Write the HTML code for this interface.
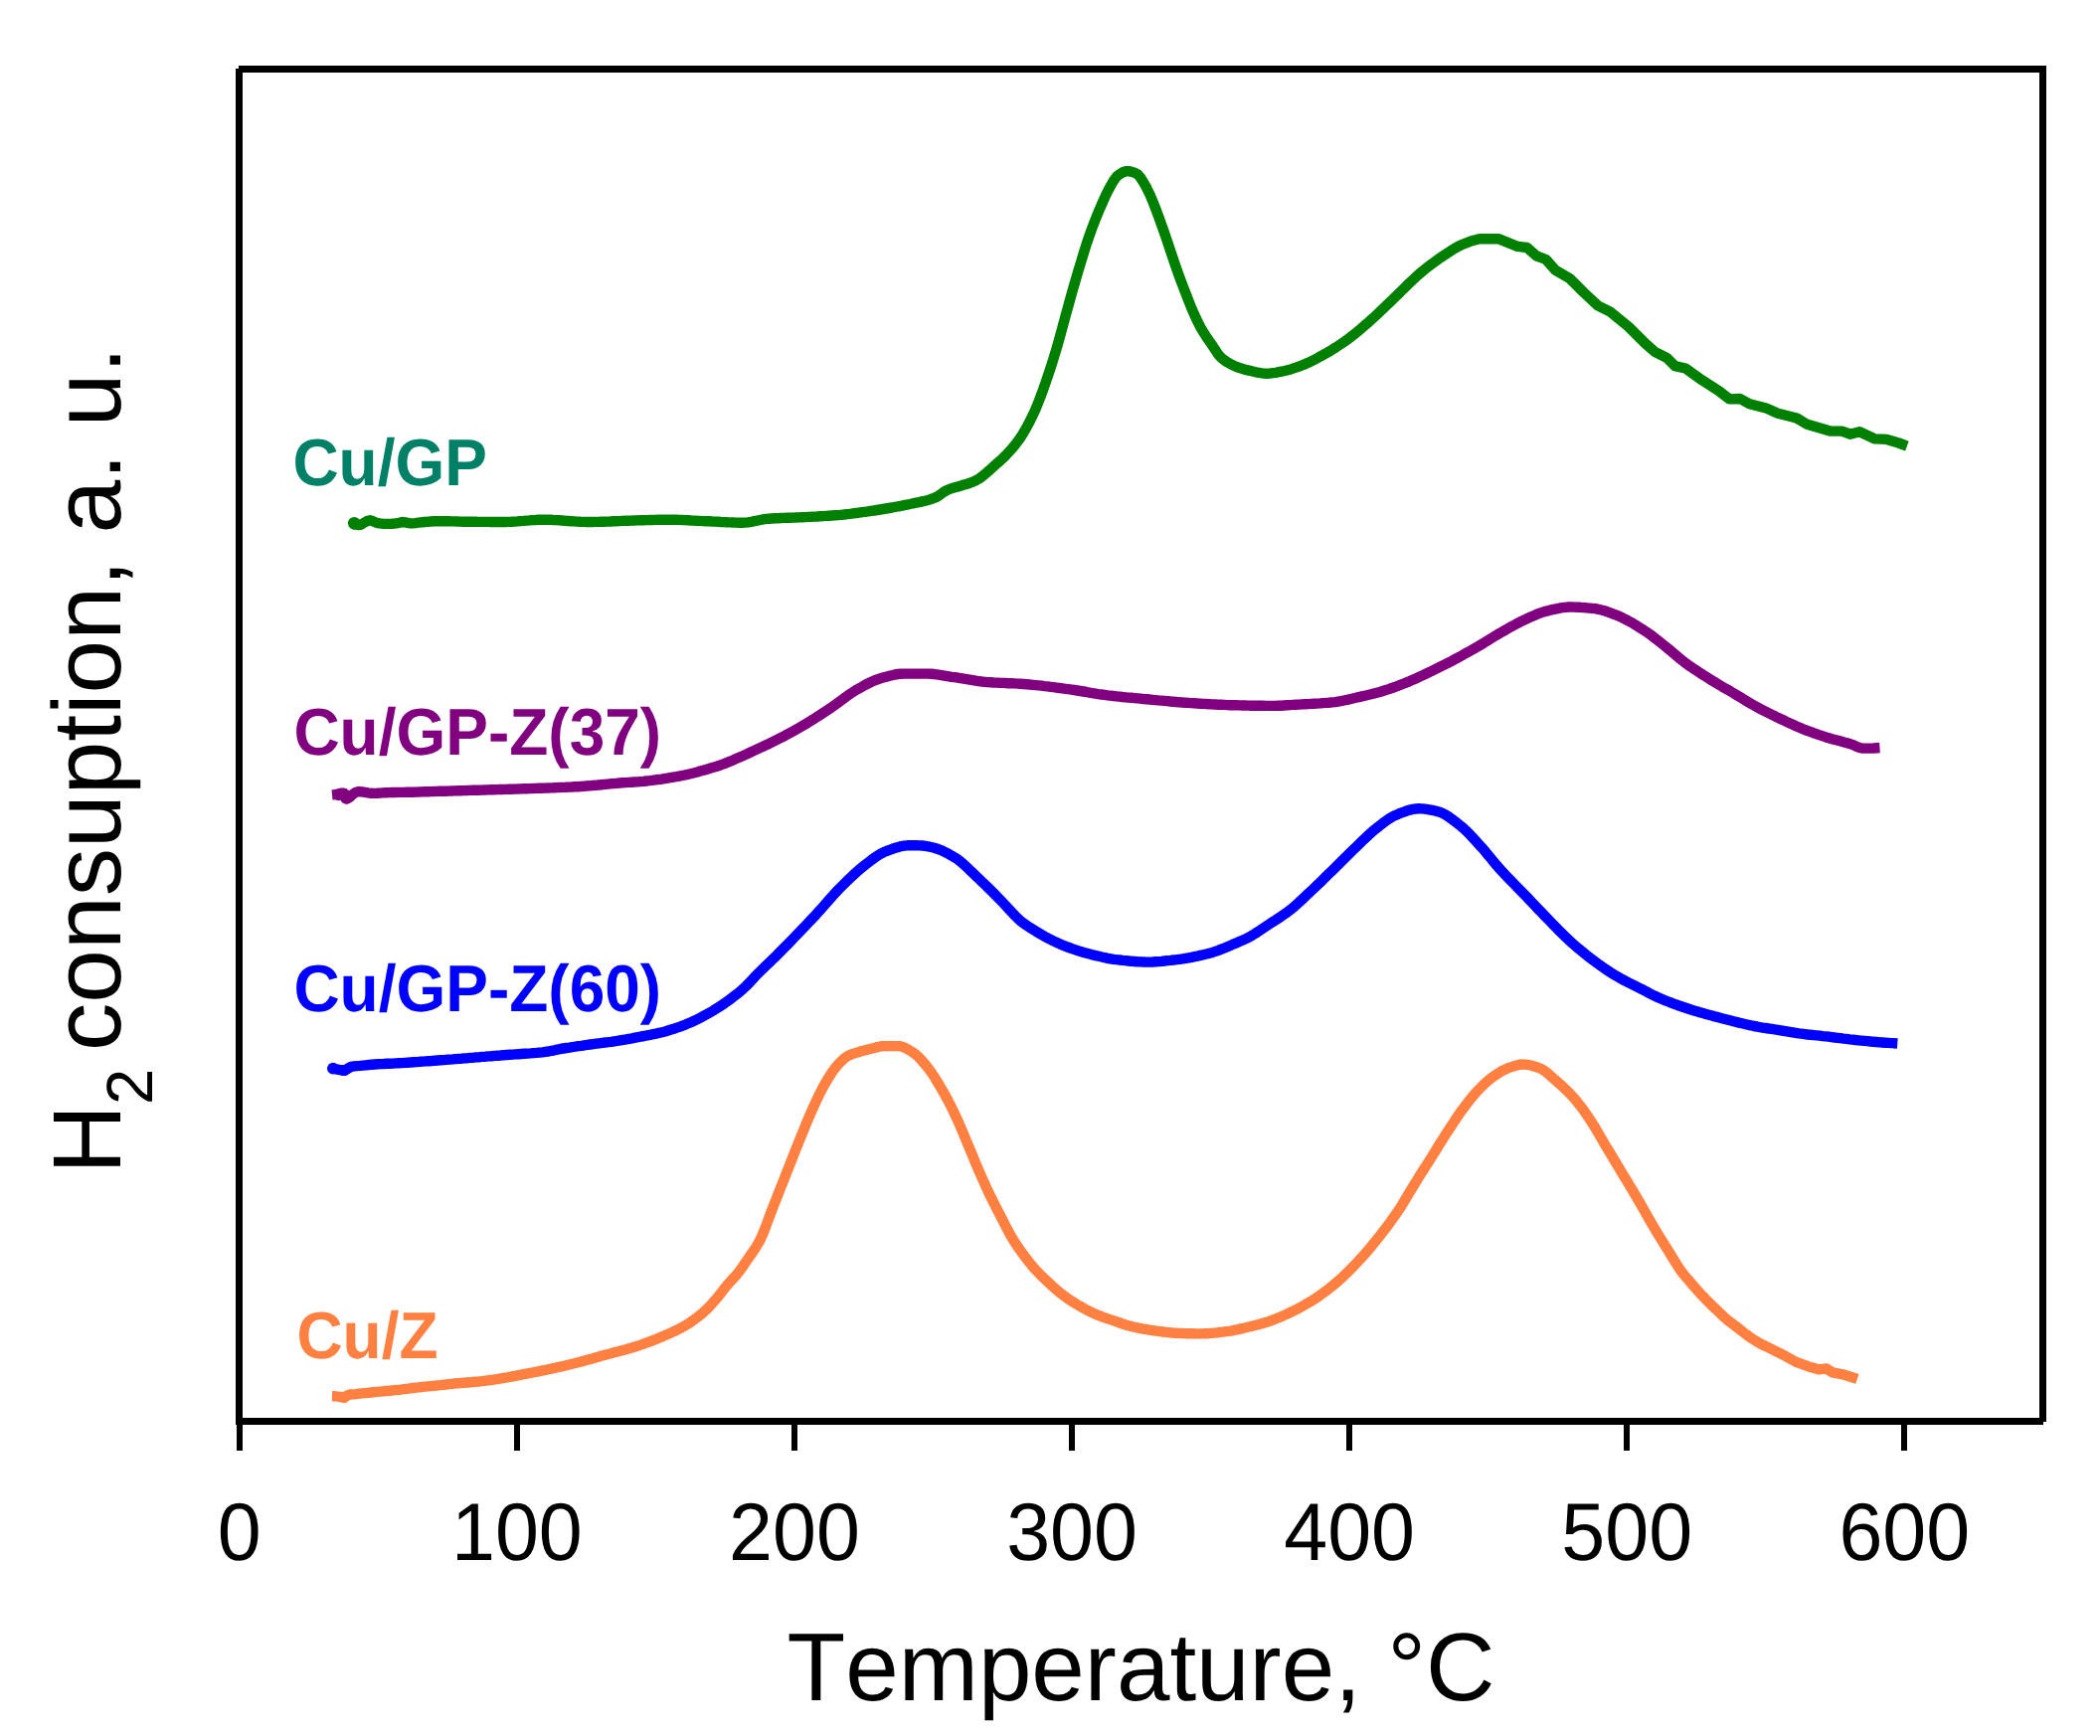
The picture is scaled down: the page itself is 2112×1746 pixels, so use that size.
<!DOCTYPE html>
<html lang="en">
<head>
<meta charset="utf-8">
<title>H2 consumption vs Temperature</title>
<style>
html,body{margin:0;padding:0;background:#fff;}
body{width:2112px;height:1746px;overflow:hidden;}
svg{display:block;}
</style>
</head>
<body>
<svg width="2112" height="1746" viewBox="0 0 2112 1746">
<rect width="2112" height="1746" fill="#ffffff"/>
<path d="M354.5,525.6 L357.5,527.4 L360.5,528.0 L363.5,527.5 L366.6,525.5 L369.6,523.9 L372.6,523.3 L375.6,524.4 L378.6,525.7 L381.6,526.4 L384.6,526.7 L387.7,526.9 L390.7,526.9 L393.7,526.8 L396.7,526.6 L399.7,526.2 L402.7,525.4 L405.7,525.0 L408.8,525.6 L411.8,526.3 L414.8,526.4 L417.8,526.1 L420.8,525.7 L423.8,525.3 L426.9,525.0 L429.9,524.8 L432.9,524.5 L435.9,524.3 L438.9,524.2 L441.9,524.2 L444.9,524.2 L448.0,524.3 L451.0,524.3 L454.0,524.4 L457.0,524.4 L460.0,524.5 L463.0,524.6 L466.0,524.7 L469.1,524.7 L472.1,524.8 L475.1,524.8 L478.1,524.8 L481.1,524.9 L484.1,524.9 L487.1,524.9 L490.2,524.9 L493.2,525.0 L496.2,525.0 L499.2,525.0 L502.2,525.0 L505.2,525.0 L508.2,525.0 L511.3,524.9 L514.3,524.8 L517.3,524.6 L520.3,524.4 L523.3,524.1 L526.3,523.9 L529.3,523.6 L532.4,523.4 L535.4,523.1 L538.4,523.0 L541.4,522.8 L544.4,522.7 L547.4,522.7 L550.5,522.7 L553.5,522.8 L556.5,523.0 L559.5,523.1 L562.5,523.3 L565.5,523.5 L568.5,523.8 L571.6,524.0 L574.6,524.2 L577.6,524.4 L580.6,524.6 L583.6,524.8 L586.6,524.9 L589.6,525.0 L592.7,525.0 L595.7,525.0 L598.7,524.9 L601.7,524.9 L604.7,524.8 L607.7,524.7 L610.7,524.6 L613.8,524.5 L616.8,524.3 L619.8,524.2 L622.8,524.1 L625.8,523.9 L628.8,523.8 L631.8,523.7 L634.9,523.6 L637.9,523.5 L640.9,523.4 L643.9,523.3 L646.9,523.2 L649.9,523.1 L652.9,523.0 L656.0,523.0 L659.0,522.9 L662.0,522.8 L665.0,522.8 L668.0,522.7 L671.0,522.7 L674.1,522.7 L677.1,522.7 L680.1,522.8 L683.1,522.9 L686.1,523.0 L689.1,523.1 L692.1,523.3 L695.2,523.5 L698.2,523.6 L701.2,523.8 L704.2,523.9 L707.2,524.1 L710.2,524.2 L713.2,524.3 L716.3,524.5 L719.3,524.6 L722.3,524.8 L725.3,525.0 L728.3,525.1 L731.3,525.3 L734.3,525.4 L737.4,525.5 L740.4,525.6 L743.4,525.7 L746.4,525.7 L749.4,525.6 L752.4,525.3 L755.4,524.8 L758.5,524.2 L761.5,523.6 L764.5,523.0 L767.5,522.4 L770.5,521.9 L773.5,521.7 L776.5,521.5 L779.6,521.3 L782.6,521.2 L785.6,521.0 L788.6,520.9 L791.6,520.8 L794.6,520.7 L797.7,520.6 L800.7,520.5 L803.7,520.4 L806.7,520.2 L809.7,520.1 L812.7,519.9 L815.7,519.8 L818.8,519.6 L821.8,519.5 L824.8,519.3 L827.8,519.1 L830.8,518.9 L833.8,518.7 L836.8,518.5 L839.9,518.3 L842.9,518.1 L845.9,517.8 L848.9,517.5 L851.9,517.1 L854.9,516.8 L857.9,516.4 L861.0,516.0 L864.0,515.6 L867.0,515.2 L870.0,514.8 L873.0,514.4 L876.0,513.9 L879.0,513.5 L882.1,513.0 L885.1,512.5 L888.1,512.0 L891.1,511.5 L894.1,511.0 L897.1,510.5 L900.1,509.9 L903.2,509.4 L906.2,508.8 L909.2,508.2 L912.2,507.6 L915.2,507.0 L918.2,506.3 L921.2,505.7 L924.3,505.1 L927.3,504.4 L930.3,503.7 L933.3,502.9 L936.3,502.0 L939.3,500.9 L942.4,499.6 L945.4,497.6 L948.4,495.4 L951.4,493.5 L954.4,492.1 L957.4,491.1 L960.4,490.2 L963.5,489.4 L966.5,488.5 L969.5,487.5 L972.5,486.7 L975.5,485.7 L978.5,484.6 L981.5,483.2 L984.6,481.5 L987.6,479.3 L990.6,476.9 L993.6,474.3 L996.6,471.6 L999.6,468.9 L1002.6,466.2 L1005.7,463.5 L1008.7,460.7 L1011.7,457.7 L1014.7,454.5 L1017.7,451.2 L1020.7,447.6 L1023.7,443.7 L1026.8,439.4 L1029.8,434.5 L1032.8,429.2 L1035.8,423.5 L1038.8,417.4 L1041.8,410.8 L1044.8,403.4 L1047.9,395.2 L1050.9,386.7 L1053.9,378.0 L1056.9,369.0 L1059.9,359.5 L1062.9,349.4 L1066.0,338.5 L1069.0,327.3 L1072.0,316.3 L1075.0,305.5 L1078.0,294.7 L1081.0,284.2 L1084.0,273.9 L1087.1,263.7 L1090.1,253.7 L1093.1,244.2 L1096.1,235.5 L1099.1,227.3 L1102.1,219.6 L1105.1,212.3 L1108.2,205.1 L1111.2,198.3 L1114.2,192.1 L1117.2,186.5 L1120.2,181.3 L1123.2,177.4 L1126.2,175.1 L1129.3,173.2 L1132.3,172.2 L1135.3,172.2 L1138.3,172.8 L1141.3,173.9 L1144.3,175.4 L1147.3,179.1 L1150.4,184.0 L1153.4,189.4 L1156.4,195.6 L1159.4,202.8 L1162.4,210.3 L1165.4,218.3 L1168.4,226.7 L1171.5,235.4 L1174.5,244.3 L1177.5,253.4 L1180.5,262.4 L1183.5,271.0 L1186.5,279.4 L1189.6,287.5 L1192.6,295.4 L1195.6,303.2 L1198.6,310.6 L1201.6,317.3 L1204.6,323.7 L1207.6,329.6 L1210.7,334.8 L1213.7,339.5 L1216.7,343.8 L1219.7,348.1 L1222.7,352.7 L1225.7,357.1 L1228.7,360.3 L1231.8,362.6 L1234.8,364.6 L1237.8,366.3 L1240.8,367.7 L1243.8,369.0 L1246.8,370.1 L1249.8,371.0 L1252.9,371.9 L1255.9,372.6 L1258.9,373.3 L1261.9,374.0 L1264.9,374.7 L1267.9,375.2 L1270.9,375.6 L1274.0,375.7 L1277.0,375.6 L1280.0,375.2 L1283.0,374.8 L1286.0,374.2 L1289.0,373.6 L1292.0,373.0 L1295.1,372.2 L1298.1,371.4 L1301.1,370.4 L1304.1,369.4 L1307.1,368.3 L1310.1,367.2 L1313.2,365.9 L1316.2,364.6 L1319.2,363.1 L1322.2,361.6 L1325.2,360.0 L1328.2,358.3 L1331.2,356.7 L1334.3,355.0 L1337.3,353.2 L1340.3,351.4 L1343.3,349.5 L1346.3,347.5 L1349.3,345.5 L1352.3,343.4 L1355.4,341.2 L1358.4,339.0 L1361.4,336.7 L1364.4,334.2 L1367.4,331.7 L1370.4,329.1 L1373.4,326.5 L1376.5,323.9 L1379.5,321.2 L1382.5,318.5 L1385.5,315.7 L1388.5,312.8 L1391.5,309.9 L1394.5,307.0 L1397.6,304.1 L1400.6,301.2 L1403.6,298.3 L1406.6,295.4 L1409.6,292.4 L1412.6,289.5 L1415.6,286.5 L1418.7,283.5 L1421.7,280.7 L1424.7,277.9 L1427.7,275.3 L1430.7,272.7 L1433.7,270.3 L1436.8,267.9 L1439.8,265.6 L1442.8,263.4 L1445.8,261.2 L1448.8,259.1 L1451.8,257.1 L1454.8,255.1 L1457.9,253.1 L1460.9,251.1 L1463.9,249.3 L1466.9,247.7 L1469.9,246.3 L1472.9,245.0 L1475.9,243.8 L1479.0,242.7 L1482.0,241.7 L1485.0,240.9 L1488.0,240.2 L1507.0,240.2 L1526.2,247.9 L1535.7,249.0 L1545.2,257.4 L1554.8,261.0 L1564.3,271.7 L1578.6,280.0 L1592.9,294.3 L1607.0,307.4 L1619.0,313.3 L1638.0,328.8 L1654.8,345.5 L1664.3,353.8 L1676.2,359.8 L1684.5,368.1 L1695.2,370.5 L1711.9,382.4 L1728.6,393.1 L1739.3,401.4 L1750.0,401.0 L1759.5,406.2 L1776.2,410.5 L1788.0,415.7 L1807.0,420.5 L1816.7,426.4 L1840.5,433.6 L1852.4,433.6 L1860.7,436.7 L1870.2,434.3 L1885.7,441.4 L1897.6,441.9 L1909.5,445.5 L1917.9,448.6" fill="none" stroke="#008000" stroke-width="10.4" stroke-linejoin="round" stroke-linecap="butt"/>
<path d="M334.0,799.4 L337.0,799.1 L340.0,798.6 L343.0,797.7 L346.0,797.6 L349.1,803.3 L352.1,801.5 L355.1,798.6 L358.1,796.8 L361.1,796.1 L364.1,796.4 L367.1,796.9 L370.1,797.4 L373.1,797.8 L376.1,797.9 L379.2,797.8 L382.2,797.6 L385.2,797.4 L388.2,797.2 L391.2,797.1 L394.2,797.0 L397.2,797.0 L400.2,796.9 L403.2,796.9 L406.3,796.9 L409.3,796.8 L412.3,796.8 L415.3,796.7 L418.3,796.6 L421.3,796.5 L424.3,796.4 L427.3,796.3 L430.3,796.2 L433.4,796.1 L436.4,796.0 L439.4,795.9 L442.4,795.8 L445.4,795.7 L448.4,795.7 L451.4,795.6 L454.4,795.5 L457.4,795.4 L460.4,795.3 L463.5,795.2 L466.5,795.1 L469.5,795.0 L472.5,794.9 L475.5,794.8 L478.5,794.7 L481.5,794.7 L484.5,794.6 L487.5,794.5 L490.6,794.4 L493.6,794.3 L496.6,794.2 L499.6,794.1 L502.6,794.0 L505.6,794.0 L508.6,793.9 L511.6,793.8 L514.6,793.7 L517.6,793.6 L520.7,793.5 L523.7,793.4 L526.7,793.3 L529.7,793.2 L532.7,793.1 L535.7,793.0 L538.7,792.9 L541.7,792.8 L544.7,792.7 L547.8,792.6 L550.8,792.5 L553.8,792.4 L556.8,792.3 L559.8,792.1 L562.8,792.0 L565.8,791.9 L568.8,791.8 L571.8,791.6 L574.9,791.5 L577.9,791.3 L580.9,791.2 L583.9,791.0 L586.9,790.8 L589.9,790.5 L592.9,790.3 L595.9,790.0 L598.9,789.8 L601.9,789.5 L605.0,789.2 L608.0,788.9 L611.0,788.6 L614.0,788.3 L617.0,788.1 L620.0,787.8 L623.0,787.5 L626.0,787.3 L629.0,787.1 L632.1,786.9 L635.1,786.7 L638.1,786.5 L641.1,786.4 L644.1,786.1 L647.1,785.9 L650.1,785.5 L653.1,785.2 L656.1,784.8 L659.1,784.4 L662.2,784.0 L665.2,783.6 L668.2,783.1 L671.2,782.7 L674.2,782.2 L677.2,781.7 L680.2,781.2 L683.2,780.6 L686.2,780.0 L689.3,779.4 L692.3,778.7 L695.3,778.0 L698.3,777.3 L701.3,776.5 L704.3,775.6 L707.3,774.8 L710.3,773.9 L713.3,773.0 L716.4,772.1 L719.4,771.2 L722.4,770.2 L725.4,769.2 L728.4,768.1 L731.4,766.9 L734.4,765.7 L737.4,764.4 L740.4,763.1 L743.4,761.8 L746.5,760.5 L749.5,759.1 L752.5,757.7 L755.5,756.3 L758.5,754.9 L761.5,753.5 L764.5,752.1 L767.5,750.7 L770.5,749.3 L773.6,747.9 L776.6,746.4 L779.6,744.9 L782.6,743.4 L785.6,741.9 L788.6,740.3 L791.6,738.7 L794.6,737.1 L797.6,735.4 L800.6,733.7 L803.7,732.0 L806.7,730.3 L809.7,728.5 L812.7,726.7 L815.7,724.8 L818.7,723.0 L821.7,721.0 L824.7,719.1 L827.7,717.1 L830.8,715.1 L833.8,713.1 L836.8,711.1 L839.8,709.0 L842.8,706.8 L845.8,704.6 L848.8,702.3 L851.8,700.1 L854.8,698.0 L857.9,696.0 L860.9,694.1 L863.9,692.4 L866.9,690.7 L869.9,689.0 L872.9,687.5 L875.9,686.0 L878.9,684.6 L881.9,683.5 L884.9,682.5 L888.0,681.6 L891.0,680.8 L894.0,679.9 L897.0,679.2 L900.0,678.5 L903.0,678.0 L906.0,677.7 L909.0,677.6 L912.0,677.6 L915.1,677.6 L918.1,677.6 L921.1,677.6 L924.1,677.6 L927.1,677.6 L930.1,677.6 L933.1,677.6 L936.1,677.7 L939.1,678.0 L942.1,678.3 L945.2,678.8 L948.2,679.3 L951.2,679.8 L954.2,680.3 L957.2,680.8 L960.2,681.2 L963.2,681.7 L966.2,682.2 L969.2,682.7 L972.3,683.2 L975.3,683.7 L978.3,684.2 L981.3,684.7 L984.3,685.1 L987.3,685.5 L990.3,685.8 L993.3,686.1 L996.3,686.3 L999.4,686.5 L1002.4,686.6 L1005.4,686.8 L1008.4,686.9 L1011.4,687.0 L1014.4,687.2 L1017.4,687.3 L1020.4,687.4 L1023.4,687.6 L1026.4,687.8 L1029.5,688.0 L1032.5,688.2 L1035.5,688.5 L1038.5,688.8 L1041.5,689.1 L1044.5,689.4 L1047.5,689.7 L1050.5,690.1 L1053.5,690.4 L1056.6,690.8 L1059.6,691.2 L1062.6,691.6 L1065.6,692.0 L1068.6,692.4 L1071.6,692.8 L1074.6,693.2 L1077.6,693.6 L1080.6,694.0 L1083.6,694.5 L1086.7,695.0 L1089.7,695.5 L1092.7,696.0 L1095.7,696.6 L1098.7,697.1 L1101.7,697.6 L1104.7,698.1 L1107.7,698.5 L1110.7,698.9 L1113.8,699.3 L1116.8,699.6 L1119.8,700.0 L1122.8,700.3 L1125.8,700.6 L1128.8,701.0 L1131.8,701.3 L1134.8,701.6 L1137.8,701.8 L1140.9,702.1 L1143.9,702.4 L1146.9,702.7 L1149.9,703.0 L1152.9,703.2 L1155.9,703.5 L1158.9,703.8 L1161.9,704.1 L1164.9,704.4 L1167.9,704.6 L1171.0,704.9 L1174.0,705.2 L1177.0,705.5 L1180.0,705.8 L1183.0,706.0 L1186.0,706.3 L1189.0,706.5 L1192.0,706.7 L1195.0,706.9 L1198.1,707.1 L1201.1,707.3 L1204.1,707.5 L1207.1,707.7 L1210.1,707.9 L1213.1,708.0 L1216.1,708.2 L1219.1,708.4 L1222.1,708.5 L1225.1,708.7 L1228.2,708.8 L1231.2,708.9 L1234.2,709.1 L1237.2,709.2 L1240.2,709.2 L1243.2,709.3 L1246.2,709.4 L1249.2,709.5 L1252.2,709.5 L1255.3,709.6 L1258.3,709.7 L1261.3,709.7 L1264.3,709.8 L1267.3,709.8 L1270.3,709.8 L1273.3,709.9 L1276.3,709.9 L1279.3,709.9 L1282.4,709.9 L1285.4,709.8 L1288.4,709.7 L1291.4,709.5 L1294.4,709.3 L1297.4,709.1 L1300.4,708.9 L1303.4,708.7 L1306.4,708.6 L1309.4,708.4 L1312.5,708.2 L1315.5,708.1 L1318.5,707.9 L1321.5,707.7 L1324.5,707.6 L1327.5,707.4 L1330.5,707.1 L1333.5,706.9 L1336.5,706.7 L1339.6,706.4 L1342.6,706.1 L1345.6,705.6 L1348.6,705.1 L1351.6,704.5 L1354.6,703.9 L1357.6,703.2 L1360.6,702.5 L1363.6,701.8 L1366.6,701.1 L1369.7,700.4 L1372.7,699.7 L1375.7,699.0 L1378.7,698.3 L1381.7,697.5 L1384.7,696.7 L1387.7,695.9 L1390.7,695.0 L1393.7,694.1 L1396.8,693.1 L1399.8,692.0 L1402.8,691.0 L1405.8,689.8 L1408.8,688.7 L1411.8,687.5 L1414.8,686.3 L1417.8,685.1 L1420.8,683.8 L1423.9,682.4 L1426.9,681.0 L1429.9,679.6 L1432.9,678.2 L1435.9,676.8 L1438.9,675.4 L1441.9,673.9 L1444.9,672.4 L1447.9,670.9 L1450.9,669.4 L1454.0,667.9 L1457.0,666.3 L1460.0,664.8 L1463.0,663.2 L1466.0,661.6 L1469.0,660.0 L1472.0,658.3 L1475.0,656.6 L1478.0,655.0 L1481.1,653.3 L1484.1,651.5 L1487.1,649.8 L1490.1,648.0 L1493.1,646.1 L1496.1,644.3 L1499.1,642.4 L1502.1,640.6 L1505.1,638.8 L1508.1,637.0 L1511.2,635.3 L1514.2,633.5 L1517.2,631.8 L1520.2,630.1 L1523.2,628.5 L1526.2,626.9 L1529.2,625.3 L1532.2,623.9 L1535.2,622.5 L1538.3,621.1 L1541.3,619.7 L1544.3,618.4 L1547.3,617.2 L1550.3,616.1 L1553.3,615.1 L1556.3,614.4 L1559.3,613.6 L1562.3,612.9 L1565.4,612.3 L1568.4,611.7 L1571.4,611.1 L1574.4,610.8 L1577.4,610.5 L1580.4,610.5 L1583.4,610.6 L1586.4,610.7 L1589.4,610.8 L1592.4,611.1 L1595.5,611.3 L1598.5,611.6 L1601.5,611.9 L1604.5,612.2 L1607.5,612.8 L1610.5,613.5 L1613.5,614.3 L1616.5,615.3 L1619.5,616.4 L1622.6,617.6 L1625.6,618.7 L1628.6,619.9 L1631.6,621.3 L1634.6,622.8 L1637.6,624.4 L1640.6,626.1 L1643.6,627.8 L1646.6,629.7 L1649.6,631.6 L1652.7,633.5 L1655.7,635.5 L1658.7,637.6 L1661.7,639.8 L1664.7,642.1 L1667.7,644.4 L1670.7,646.8 L1673.7,649.2 L1676.7,651.6 L1679.8,654.1 L1682.8,656.7 L1685.8,659.3 L1688.8,661.9 L1691.8,664.3 L1694.8,666.6 L1697.8,668.8 L1700.8,670.8 L1703.8,672.9 L1706.9,674.9 L1709.9,676.8 L1712.9,678.8 L1715.9,680.7 L1718.9,682.6 L1721.9,684.5 L1724.9,686.3 L1727.9,688.1 L1730.9,689.9 L1733.9,691.7 L1737.0,693.4 L1740.0,695.1 L1743.0,696.9 L1746.0,698.7 L1749.0,700.5 L1752.0,702.3 L1755.0,704.2 L1758.0,706.0 L1761.0,707.8 L1764.1,709.5 L1767.1,711.2 L1770.1,712.8 L1773.1,714.4 L1776.1,715.9 L1779.1,717.4 L1782.1,718.9 L1785.1,720.3 L1788.1,721.8 L1791.1,723.2 L1794.2,724.6 L1797.2,726.1 L1800.2,727.5 L1803.2,728.8 L1806.2,730.2 L1809.2,731.5 L1812.2,732.8 L1815.2,734.0 L1818.2,735.1 L1821.3,736.2 L1824.3,737.3 L1827.3,738.4 L1830.3,739.4 L1833.3,740.4 L1836.3,741.4 L1839.3,742.3 L1842.3,743.2 L1845.3,744.0 L1848.4,744.8 L1851.4,745.6 L1854.4,746.4 L1857.4,747.2 L1860.4,748.1 L1863.4,749.1 L1866.4,750.4 L1869.4,751.7 L1872.4,752.5 L1875.4,752.6 L1878.5,752.6 L1881.5,752.6 L1884.5,752.5 L1887.5,752.3 L1890.5,752.1" fill="none" stroke="#800080" stroke-width="10.4" stroke-linejoin="round" stroke-linecap="butt"/>
<path d="M334.9,1074.5 L337.9,1075.3 L340.9,1075.9 L343.9,1076.5 L346.9,1076.6 L349.9,1074.6 L353.0,1072.9 L356.0,1072.4 L359.0,1072.1 L362.0,1071.9 L365.0,1071.6 L368.0,1071.3 L371.0,1071.0 L374.0,1070.7 L377.0,1070.5 L380.0,1070.3 L383.0,1070.1 L386.0,1070.0 L389.1,1069.8 L392.1,1069.7 L395.1,1069.6 L398.1,1069.4 L401.1,1069.2 L404.1,1069.1 L407.1,1068.9 L410.1,1068.7 L413.1,1068.5 L416.1,1068.3 L419.1,1068.1 L422.1,1067.8 L425.2,1067.6 L428.2,1067.4 L431.2,1067.2 L434.2,1067.0 L437.2,1066.7 L440.2,1066.5 L443.2,1066.3 L446.2,1066.1 L449.2,1065.8 L452.2,1065.6 L455.2,1065.4 L458.2,1065.1 L461.3,1064.9 L464.3,1064.7 L467.3,1064.4 L470.3,1064.2 L473.3,1063.9 L476.3,1063.7 L479.3,1063.4 L482.3,1063.2 L485.3,1062.9 L488.3,1062.7 L491.3,1062.4 L494.3,1062.2 L497.4,1061.9 L500.4,1061.7 L503.4,1061.5 L506.4,1061.2 L509.4,1061.0 L512.4,1060.8 L515.4,1060.6 L518.4,1060.4 L521.4,1060.2 L524.4,1060.0 L527.4,1059.8 L530.4,1059.6 L533.5,1059.4 L536.5,1059.1 L539.5,1058.9 L542.5,1058.6 L545.5,1058.3 L548.5,1057.9 L551.5,1057.5 L554.5,1056.9 L557.5,1056.3 L560.5,1055.6 L563.5,1055.0 L566.5,1054.5 L569.6,1054.0 L572.6,1053.6 L575.6,1053.1 L578.6,1052.7 L581.6,1052.2 L584.6,1051.8 L587.6,1051.3 L590.6,1050.9 L593.6,1050.5 L596.6,1050.1 L599.6,1049.7 L602.6,1049.3 L605.7,1048.9 L608.7,1048.5 L611.7,1048.2 L614.7,1047.8 L617.7,1047.3 L620.7,1046.9 L623.7,1046.4 L626.7,1045.9 L629.7,1045.4 L632.7,1044.8 L635.7,1044.3 L638.7,1043.7 L641.8,1043.1 L644.8,1042.5 L647.8,1042.0 L650.8,1041.4 L653.8,1040.8 L656.8,1040.2 L659.8,1039.6 L662.8,1038.9 L665.8,1038.2 L668.8,1037.4 L671.8,1036.5 L674.9,1035.6 L677.9,1034.7 L680.9,1033.6 L683.9,1032.6 L686.9,1031.5 L689.9,1030.3 L692.9,1029.0 L695.9,1027.7 L698.9,1026.3 L701.9,1024.8 L704.9,1023.3 L707.9,1021.7 L711.0,1020.0 L714.0,1018.4 L717.0,1016.6 L720.0,1014.7 L723.0,1012.8 L726.0,1010.8 L729.0,1008.8 L732.0,1006.7 L735.0,1004.5 L738.0,1002.2 L741.0,999.9 L744.0,997.4 L747.1,994.8 L750.1,992.0 L753.1,989.0 L756.1,985.7 L759.1,982.4 L762.1,979.4 L765.1,976.4 L768.1,973.5 L771.1,970.6 L774.1,967.7 L777.1,964.8 L780.1,961.9 L783.2,958.8 L786.2,955.8 L789.2,952.7 L792.2,949.7 L795.2,946.6 L798.2,943.5 L801.2,940.4 L804.2,937.2 L807.2,934.1 L810.2,931.0 L813.2,927.8 L816.2,924.6 L819.3,921.4 L822.3,918.1 L825.3,914.8 L828.3,911.4 L831.3,907.9 L834.3,904.5 L837.3,901.1 L840.3,897.8 L843.3,894.6 L846.3,891.6 L849.3,888.6 L852.3,885.6 L855.4,882.7 L858.4,879.9 L861.4,877.1 L864.4,874.5 L867.4,872.0 L870.4,869.7 L873.4,867.4 L876.4,865.0 L879.4,862.8 L882.4,860.7 L885.4,858.9 L888.4,857.3 L891.5,856.0 L894.5,854.9 L897.5,853.8 L900.5,852.8 L903.5,851.9 L906.5,851.1 L909.5,850.6 L912.5,850.3 L915.5,850.2 L918.5,850.2 L921.5,850.3 L924.5,850.4 L927.6,850.5 L930.6,850.9 L933.6,851.4 L936.6,852.0 L939.6,852.7 L942.6,853.7 L945.6,854.8 L948.6,856.1 L951.6,857.6 L954.6,859.2 L957.6,860.9 L960.6,862.7 L963.7,864.7 L966.7,867.1 L969.7,869.7 L972.7,872.5 L975.7,875.4 L978.7,878.3 L981.7,881.2 L984.7,884.0 L987.7,886.9 L990.7,889.8 L993.7,892.8 L996.8,895.8 L999.8,898.8 L1002.8,901.9 L1005.8,904.9 L1008.8,908.0 L1011.8,911.2 L1014.8,914.5 L1017.8,917.7 L1020.8,920.9 L1023.8,923.9 L1026.8,926.6 L1029.8,928.9 L1032.9,931.0 L1035.9,933.0 L1038.9,934.8 L1041.9,936.7 L1044.9,938.5 L1047.9,940.3 L1050.9,942.0 L1053.9,943.6 L1056.9,945.1 L1059.9,946.6 L1062.9,948.0 L1065.9,949.4 L1069.0,950.7 L1072.0,951.9 L1075.0,953.0 L1078.0,954.1 L1081.0,955.1 L1084.0,956.1 L1087.0,957.1 L1090.0,958.0 L1093.0,958.8 L1096.0,959.6 L1099.0,960.4 L1102.0,961.1 L1105.1,961.8 L1108.1,962.5 L1111.1,963.2 L1114.1,963.8 L1117.1,964.3 L1120.1,964.8 L1123.1,965.2 L1126.1,965.5 L1129.1,965.9 L1132.1,966.2 L1135.1,966.5 L1138.1,966.8 L1141.2,967.0 L1144.2,967.3 L1147.2,967.4 L1150.2,967.5 L1153.2,967.6 L1156.2,967.6 L1159.2,967.5 L1162.2,967.3 L1165.2,967.1 L1168.2,966.9 L1171.2,966.5 L1174.2,966.2 L1177.3,965.9 L1180.3,965.5 L1183.3,965.2 L1186.3,964.8 L1189.3,964.4 L1192.3,963.9 L1195.3,963.4 L1198.3,962.8 L1201.3,962.2 L1204.3,961.6 L1207.3,960.9 L1210.3,960.2 L1213.4,959.5 L1216.4,958.7 L1219.4,957.9 L1222.4,956.9 L1225.4,955.9 L1228.4,954.7 L1231.4,953.5 L1234.4,952.2 L1237.4,950.9 L1240.4,949.6 L1243.4,948.4 L1246.4,947.1 L1249.5,945.8 L1252.5,944.4 L1255.5,942.9 L1258.5,941.2 L1261.5,939.4 L1264.5,937.5 L1267.5,935.5 L1270.5,933.5 L1273.5,931.5 L1276.5,929.5 L1279.5,927.5 L1282.6,925.6 L1285.6,923.6 L1288.6,921.6 L1291.6,919.5 L1294.6,917.4 L1297.6,915.1 L1300.6,912.7 L1303.6,910.1 L1306.6,907.4 L1309.6,904.6 L1312.6,901.7 L1315.6,898.8 L1318.7,896.0 L1321.7,893.2 L1324.7,890.3 L1327.7,887.4 L1330.7,884.5 L1333.7,881.5 L1336.7,878.6 L1339.7,875.7 L1342.7,872.7 L1345.7,869.7 L1348.7,866.7 L1351.7,863.7 L1354.8,860.7 L1357.8,857.7 L1360.8,854.8 L1363.8,851.9 L1366.8,849.0 L1369.8,846.1 L1372.8,843.2 L1375.8,840.4 L1378.8,837.6 L1381.8,835.0 L1384.8,832.6 L1387.8,830.2 L1390.9,827.8 L1393.9,825.6 L1396.9,823.5 L1399.9,821.7 L1402.9,820.2 L1405.9,818.9 L1408.9,817.7 L1411.9,816.6 L1414.9,815.5 L1417.9,814.6 L1420.9,813.9 L1423.9,813.5 L1427.0,813.3 L1430.0,813.4 L1433.0,813.7 L1436.0,814.1 L1439.0,814.6 L1442.0,815.2 L1445.0,815.9 L1448.0,816.7 L1451.0,818.0 L1454.0,819.6 L1457.0,821.5 L1460.0,823.7 L1463.1,826.0 L1466.1,828.3 L1469.1,830.7 L1472.1,833.3 L1475.1,836.1 L1478.1,839.2 L1481.1,842.4 L1484.1,845.6 L1487.1,848.9 L1490.1,852.2 L1493.1,855.7 L1496.1,859.3 L1499.2,863.0 L1502.2,866.7 L1505.2,870.3 L1508.2,873.7 L1511.2,877.0 L1514.2,880.2 L1517.2,883.3 L1520.2,886.4 L1523.2,889.5 L1526.2,892.6 L1529.2,895.6 L1532.2,898.8 L1535.3,901.9 L1538.3,905.1 L1541.3,908.3 L1544.3,911.4 L1547.3,914.6 L1550.3,917.7 L1553.3,920.8 L1556.3,923.9 L1559.3,927.0 L1562.3,930.1 L1565.3,933.2 L1568.3,936.3 L1571.4,939.3 L1574.4,942.2 L1577.4,945.1 L1580.4,947.8 L1583.4,950.5 L1586.4,953.1 L1589.4,955.6 L1592.4,958.1 L1595.4,960.5 L1598.4,962.8 L1601.4,965.1 L1604.5,967.4 L1607.5,969.6 L1610.5,971.7 L1613.5,973.9 L1616.5,975.9 L1619.5,977.9 L1622.5,979.8 L1625.5,981.6 L1628.5,983.3 L1631.5,985.0 L1634.5,986.5 L1637.5,988.1 L1640.6,989.6 L1643.6,991.1 L1646.6,992.6 L1649.6,994.1 L1652.6,995.7 L1655.6,997.2 L1658.6,998.8 L1661.6,1000.3 L1664.6,1001.8 L1667.6,1003.2 L1670.6,1004.5 L1673.6,1005.8 L1676.7,1007.0 L1679.7,1008.1 L1682.7,1009.3 L1685.7,1010.4 L1688.7,1011.5 L1691.7,1012.5 L1694.7,1013.5 L1697.7,1014.5 L1700.7,1015.5 L1703.7,1016.4 L1706.7,1017.3 L1709.7,1018.2 L1712.8,1019.1 L1715.8,1019.9 L1718.8,1020.7 L1721.8,1021.5 L1724.8,1022.4 L1727.8,1023.1 L1730.8,1023.9 L1733.8,1024.7 L1736.8,1025.5 L1739.8,1026.3 L1742.8,1027.1 L1745.8,1027.8 L1748.9,1028.6 L1751.9,1029.3 L1754.9,1030.0 L1757.9,1030.7 L1760.9,1031.3 L1763.9,1032.0 L1766.9,1032.5 L1769.9,1033.1 L1772.9,1033.6 L1775.9,1034.0 L1778.9,1034.5 L1781.9,1034.9 L1785.0,1035.4 L1788.0,1035.8 L1791.0,1036.3 L1794.0,1036.8 L1797.0,1037.3 L1800.0,1037.8 L1803.0,1038.3 L1806.0,1038.8 L1809.0,1039.3 L1812.0,1039.7 L1815.0,1040.1 L1818.0,1040.5 L1821.1,1040.8 L1824.1,1041.1 L1827.1,1041.4 L1830.1,1041.7 L1833.1,1042.1 L1836.1,1042.4 L1839.1,1042.7 L1842.1,1043.1 L1845.1,1043.5 L1848.1,1043.8 L1851.1,1044.2 L1854.1,1044.6 L1857.2,1044.9 L1860.2,1045.3 L1863.2,1045.6 L1866.2,1046.0 L1869.2,1046.3 L1872.2,1046.6 L1875.2,1046.9 L1878.2,1047.2 L1881.2,1047.5 L1884.2,1047.8 L1887.2,1048.0 L1890.2,1048.3 L1893.3,1048.5 L1896.3,1048.7 L1899.3,1048.9 L1902.3,1049.1 L1905.3,1049.3 L1908.3,1049.5" fill="none" stroke="#0000ff" stroke-width="10.4" stroke-linejoin="round" stroke-linecap="butt"/>
<path d="M334.0,1404.2 L337.0,1404.3 L340.0,1404.6 L343.0,1405.1 L346.0,1405.6 L349.0,1403.6 L352.0,1402.5 L355.0,1402.4 L358.1,1402.1 L361.1,1401.7 L364.1,1401.4 L367.1,1401.1 L370.1,1400.8 L373.1,1400.5 L376.1,1400.2 L379.1,1399.9 L382.1,1399.6 L385.1,1399.3 L388.1,1399.0 L391.1,1398.8 L394.1,1398.5 L397.1,1398.2 L400.1,1397.9 L403.2,1397.6 L406.2,1397.2 L409.2,1396.8 L412.2,1396.4 L415.2,1396.0 L418.2,1395.6 L421.2,1395.3 L424.2,1395.0 L427.2,1394.7 L430.2,1394.4 L433.2,1394.1 L436.2,1393.8 L439.2,1393.5 L442.2,1393.2 L445.2,1392.8 L448.3,1392.5 L451.3,1392.1 L454.3,1391.8 L457.3,1391.5 L460.3,1391.2 L463.3,1391.0 L466.3,1390.7 L469.3,1390.5 L472.3,1390.3 L475.3,1390.0 L478.3,1389.7 L481.3,1389.5 L484.3,1389.2 L487.3,1388.8 L490.3,1388.4 L493.3,1388.0 L496.4,1387.6 L499.4,1387.1 L502.4,1386.6 L505.4,1386.1 L508.4,1385.6 L511.4,1385.1 L514.4,1384.5 L517.4,1384.0 L520.4,1383.4 L523.4,1382.8 L526.4,1382.2 L529.4,1381.7 L532.4,1381.1 L535.4,1380.5 L538.4,1379.9 L541.5,1379.3 L544.5,1378.7 L547.5,1378.1 L550.5,1377.5 L553.5,1376.8 L556.5,1376.2 L559.5,1375.5 L562.5,1374.8 L565.5,1374.2 L568.5,1373.5 L571.5,1372.7 L574.5,1372.0 L577.5,1371.3 L580.5,1370.5 L583.5,1369.7 L586.6,1368.9 L589.6,1368.1 L592.6,1367.3 L595.6,1366.4 L598.6,1365.5 L601.6,1364.7 L604.6,1363.8 L607.6,1363.0 L610.6,1362.2 L613.6,1361.4 L616.6,1360.6 L619.6,1359.8 L622.6,1359.1 L625.6,1358.3 L628.6,1357.5 L631.7,1356.6 L634.7,1355.8 L637.7,1354.8 L640.7,1353.9 L643.7,1352.9 L646.7,1351.8 L649.7,1350.7 L652.7,1349.6 L655.7,1348.5 L658.7,1347.3 L661.7,1346.1 L664.7,1344.8 L667.7,1343.6 L670.7,1342.3 L673.7,1341.0 L676.8,1339.6 L679.8,1338.2 L682.8,1336.7 L685.8,1335.1 L688.8,1333.4 L691.8,1331.6 L694.8,1329.6 L697.8,1327.5 L700.8,1325.3 L703.8,1322.9 L706.8,1320.4 L709.8,1317.7 L712.8,1314.7 L715.8,1311.4 L718.8,1308.1 L721.8,1304.6 L724.9,1300.8 L727.9,1296.7 L730.9,1293.0 L733.9,1289.6 L736.9,1286.4 L739.9,1283.1 L742.9,1279.5 L745.9,1275.4 L748.9,1271.1 L751.9,1266.6 L754.9,1262.2 L757.9,1257.9 L760.9,1253.4 L763.9,1248.2 L766.9,1241.7 L770.0,1234.0 L773.0,1225.8 L776.0,1217.8 L779.0,1210.1 L782.0,1202.5 L785.0,1194.9 L788.0,1187.3 L791.0,1179.7 L794.0,1172.1 L797.0,1164.5 L800.0,1156.9 L803.0,1149.4 L806.0,1142.0 L809.0,1134.7 L812.0,1127.3 L815.1,1120.2 L818.1,1113.4 L821.1,1106.8 L824.1,1100.5 L827.1,1094.6 L830.1,1089.2 L833.1,1084.2 L836.1,1079.4 L839.1,1075.2 L842.1,1071.6 L845.1,1068.3 L848.1,1065.4 L851.1,1063.0 L854.1,1061.3 L857.1,1060.1 L860.2,1059.1 L863.2,1058.2 L866.2,1057.3 L869.2,1056.5 L872.2,1055.7 L875.2,1054.9 L878.2,1054.2 L881.2,1053.4 L884.2,1052.7 L887.2,1052.2 L890.2,1052.1 L893.2,1052.1 L896.2,1052.1 L899.2,1052.1 L902.2,1052.1 L905.3,1052.3 L908.3,1053.1 L911.3,1054.5 L914.3,1056.1 L917.3,1057.9 L920.3,1060.0 L923.3,1062.6 L926.3,1065.8 L929.3,1069.2 L932.3,1072.8 L935.3,1076.7 L938.3,1081.0 L941.3,1085.7 L944.3,1090.7 L947.3,1095.8 L950.3,1101.1 L953.4,1106.8 L956.4,1112.7 L959.4,1118.8 L962.4,1125.2 L965.4,1132.0 L968.4,1139.1 L971.4,1146.2 L974.4,1153.4 L977.4,1160.6 L980.4,1167.9 L983.4,1175.1 L986.4,1182.0 L989.4,1188.7 L992.4,1195.3 L995.4,1201.7 L998.5,1207.9 L1001.5,1213.9 L1004.5,1219.7 L1007.5,1225.5 L1010.5,1231.3 L1013.5,1237.2 L1016.5,1242.8 L1019.5,1247.8 L1022.5,1252.4 L1025.5,1256.8 L1028.5,1260.9 L1031.5,1264.9 L1034.5,1268.8 L1037.5,1272.5 L1040.5,1276.0 L1043.6,1279.3 L1046.6,1282.4 L1049.6,1285.3 L1052.6,1288.1 L1055.6,1290.9 L1058.6,1293.7 L1061.6,1296.4 L1064.6,1299.0 L1067.6,1301.4 L1070.6,1303.7 L1073.6,1305.8 L1076.6,1307.8 L1079.6,1309.8 L1082.6,1311.6 L1085.6,1313.4 L1088.7,1315.1 L1091.7,1316.8 L1094.7,1318.3 L1097.7,1319.9 L1100.7,1321.3 L1103.7,1322.6 L1106.7,1323.7 L1109.7,1324.8 L1112.7,1325.9 L1115.7,1326.9 L1118.7,1327.9 L1121.7,1328.9 L1124.7,1329.9 L1127.7,1331.0 L1130.7,1332.0 L1133.8,1332.9 L1136.8,1333.7 L1139.8,1334.5 L1142.8,1335.1 L1145.8,1335.8 L1148.8,1336.4 L1151.8,1336.9 L1154.8,1337.4 L1157.8,1337.9 L1160.8,1338.3 L1163.8,1338.7 L1166.8,1339.1 L1169.8,1339.5 L1172.8,1339.9 L1175.8,1340.2 L1178.9,1340.5 L1181.9,1340.7 L1184.9,1340.9 L1187.9,1341.0 L1190.9,1341.1 L1193.9,1341.2 L1196.9,1341.3 L1199.9,1341.3 L1202.9,1341.4 L1205.9,1341.4 L1208.9,1341.4 L1211.9,1341.3 L1214.9,1341.2 L1217.9,1340.9 L1220.9,1340.6 L1223.9,1340.3 L1227.0,1339.9 L1230.0,1339.6 L1233.0,1339.2 L1236.0,1338.8 L1239.0,1338.3 L1242.0,1337.7 L1245.0,1337.1 L1248.0,1336.4 L1251.0,1335.7 L1254.0,1335.0 L1257.0,1334.3 L1260.0,1333.6 L1263.0,1332.8 L1266.0,1332.1 L1269.0,1331.2 L1272.1,1330.3 L1275.1,1329.4 L1278.1,1328.3 L1281.1,1327.2 L1284.1,1326.0 L1287.1,1324.8 L1290.1,1323.5 L1293.1,1322.1 L1296.1,1320.7 L1299.1,1319.3 L1302.1,1317.8 L1305.1,1316.3 L1308.1,1314.7 L1311.1,1313.0 L1314.1,1311.3 L1317.2,1309.5 L1320.2,1307.7 L1323.2,1305.8 L1326.2,1303.7 L1329.2,1301.6 L1332.2,1299.4 L1335.2,1297.2 L1338.2,1294.8 L1341.2,1292.4 L1344.2,1289.8 L1347.2,1287.2 L1350.2,1284.5 L1353.2,1281.6 L1356.2,1278.7 L1359.2,1275.6 L1362.3,1272.5 L1365.3,1269.3 L1368.3,1266.0 L1371.3,1262.7 L1374.3,1259.3 L1377.3,1255.8 L1380.3,1252.2 L1383.3,1248.5 L1386.3,1244.7 L1389.3,1240.9 L1392.3,1237.0 L1395.3,1233.1 L1398.3,1229.0 L1401.3,1224.8 L1404.3,1220.5 L1407.4,1216.0 L1410.4,1211.3 L1413.4,1206.3 L1416.4,1201.2 L1419.4,1196.2 L1422.4,1191.2 L1425.4,1186.4 L1428.4,1181.6 L1431.4,1176.9 L1434.4,1172.2 L1437.4,1167.4 L1440.4,1162.7 L1443.4,1157.9 L1446.4,1153.0 L1449.4,1148.2 L1452.4,1143.4 L1455.5,1138.7 L1458.5,1134.1 L1461.5,1129.5 L1464.5,1125.0 L1467.5,1120.5 L1470.5,1116.3 L1473.5,1112.3 L1476.5,1108.4 L1479.5,1104.6 L1482.5,1101.0 L1485.5,1097.6 L1488.5,1094.5 L1491.5,1091.5 L1494.5,1088.7 L1497.5,1086.1 L1500.6,1083.7 L1503.6,1081.6 L1506.6,1079.6 L1509.6,1077.7 L1512.6,1076.1 L1515.6,1074.7 L1518.6,1073.6 L1521.6,1072.6 L1524.6,1071.7 L1527.6,1070.9 L1530.6,1070.5 L1533.6,1070.6 L1536.6,1070.9 L1539.6,1071.5 L1542.6,1072.4 L1545.7,1073.3 L1548.7,1074.4 L1551.7,1076.0 L1554.7,1078.1 L1557.7,1080.6 L1560.7,1083.2 L1563.7,1085.9 L1566.7,1088.5 L1569.7,1091.2 L1572.7,1093.9 L1575.7,1096.8 L1578.7,1099.8 L1581.7,1103.0 L1584.7,1106.4 L1587.7,1110.2 L1590.8,1114.1 L1593.8,1118.3 L1596.8,1122.7 L1599.8,1127.2 L1602.8,1131.9 L1605.8,1136.8 L1608.8,1142.0 L1611.8,1147.2 L1614.8,1152.3 L1617.8,1157.3 L1620.8,1162.3 L1623.8,1167.3 L1626.8,1172.3 L1629.8,1177.2 L1632.8,1182.2 L1635.9,1187.2 L1638.9,1192.3 L1641.9,1197.3 L1644.9,1202.4 L1647.9,1207.5 L1650.9,1212.7 L1653.9,1218.0 L1656.9,1223.3 L1659.9,1228.6 L1662.9,1233.7 L1665.9,1238.7 L1668.9,1243.6 L1671.9,1248.4 L1674.9,1253.2 L1677.9,1258.0 L1680.9,1263.0 L1684.0,1268.0 L1687.0,1272.9 L1690.0,1277.4 L1693.0,1281.4 L1696.0,1285.0 L1699.0,1288.3 L1702.0,1291.8 L1705.0,1295.3 L1708.0,1298.7 L1711.0,1302.1 L1714.0,1305.2 L1717.0,1308.3 L1720.0,1311.2 L1723.0,1314.2 L1726.0,1317.1 L1729.1,1320.1 L1732.1,1322.9 L1735.1,1325.7 L1738.1,1328.2 L1741.1,1330.5 L1744.1,1332.7 L1747.1,1335.0 L1750.1,1337.4 L1753.1,1339.8 L1756.1,1342.1 L1759.1,1344.3 L1762.1,1346.3 L1765.1,1348.2 L1768.1,1350.0 L1771.1,1351.7 L1774.2,1353.2 L1777.2,1354.7 L1780.2,1356.2 L1783.2,1357.6 L1786.2,1359.1 L1789.2,1360.7 L1792.2,1362.2 L1795.2,1363.7 L1807.1,1370.2 L1819.0,1374.4 L1829.8,1377.4 L1836.9,1376.4 L1842.9,1380.4 L1854.8,1382.7 L1867.9,1386.9" fill="none" stroke="#ff8040" stroke-width="10.4" stroke-linejoin="round" stroke-linecap="butt"/>
<circle cx="356.3" cy="526.3" r="6.4" fill="#008000"/>
<circle cx="334.9" cy="1074.7" r="5.9" fill="#0000ff"/>
<circle cx="345.5" cy="1076.6" r="5.5" fill="#0000ff"/>
<circle cx="348.3" cy="802.6" r="6.2" fill="#800080"/>
<circle cx="340.5" cy="799.6" r="5.6" fill="#800080"/>
<circle cx="346.2" cy="1405.4" r="5.5" fill="#ff8040"/>
<g fill="#000000" shape-rendering="crispEdges">
<rect x="237" y="69" width="7" height="1364"/>
<rect x="240" y="66" width="1818" height="7"/>
<rect x="2051" y="66" width="7" height="1364"/>
<rect x="237" y="1426" width="1818" height="7"/>
<rect x="237.5" y="1433" width="6" height="26"/>
<rect x="516.6" y="1433" width="6" height="26"/>
<rect x="795.7" y="1433" width="6" height="26"/>
<rect x="1074.8" y="1433" width="6" height="26"/>
<rect x="1353.8" y="1433" width="6" height="26"/>
<rect x="1632.9" y="1433" width="6" height="26"/>
<rect x="1912.0" y="1433" width="6" height="26"/>
</g>
<g font-family="'Liberation Sans', Arial, sans-serif" style="font-kerning:none;font-variant-ligatures:none" text-rendering="geometricPrecision">
<text transform="translate(240.80 1569.00) translate(-21.97 0) scale(1 1.04)" font-size="79" fill="#000" xml:space="preserve">0</text>
<text transform="translate(519.88 1569.00) translate(-65.90 0) scale(1 1.04)" font-size="79" fill="#000" xml:space="preserve">100</text>
<text transform="translate(798.97 1569.00) translate(-65.90 0) scale(1 1.04)" font-size="79" fill="#000" xml:space="preserve">200</text>
<text transform="translate(1078.05 1569.00) translate(-65.90 0) scale(1 1.04)" font-size="79" fill="#000" xml:space="preserve">300</text>
<text transform="translate(1357.13 1569.00) translate(-65.90 0) scale(1 1.04)" font-size="79" fill="#000" xml:space="preserve">400</text>
<text transform="translate(1636.22 1569.00) translate(-65.90 0) scale(1 1.04)" font-size="79" fill="#000" xml:space="preserve">500</text>
<text transform="translate(1915.30 1569.00) translate(-65.90 0) scale(1 1.04)" font-size="79" fill="#000" xml:space="preserve">600</text>
<text transform="translate(791.50 1709.80) translate(0.00 0) scale(1 1.01)" font-size="96.2" fill="#000" xml:space="preserve">Temperature, °C</text>
<text transform="translate(121.20 1180.80) rotate(-90) translate(0.00 0) scale(1 1.01)" font-size="96.5" fill="#000" xml:space="preserve">H<tspan font-size="65" dy="30.99">2 </tspan><tspan dy="-30.99">consuption, a. u.</tspan></text>
<text transform="translate(294.40 488.00) translate(0.00 0) scale(1 1.04)" font-size="64" font-weight="bold" fill="#008066" xml:space="preserve">Cu/GP</text>
<text transform="translate(295.40 758.60) translate(0.00 0) scale(1 1.04)" font-size="64" font-weight="bold" fill="#800080" xml:space="preserve">Cu/GP-Z(37)</text>
<text transform="translate(295.40 1017.00) translate(0.00 0) scale(1 1.04)" font-size="64" font-weight="bold" fill="#0000ff" xml:space="preserve">Cu/GP-Z(60)</text>
<text transform="translate(298.40 1365.60) translate(0.00 0) scale(1 1.04)" font-size="64" font-weight="bold" fill="#ff8040" xml:space="preserve">Cu/Z</text>
</g>
</svg>
</body>
</html>
